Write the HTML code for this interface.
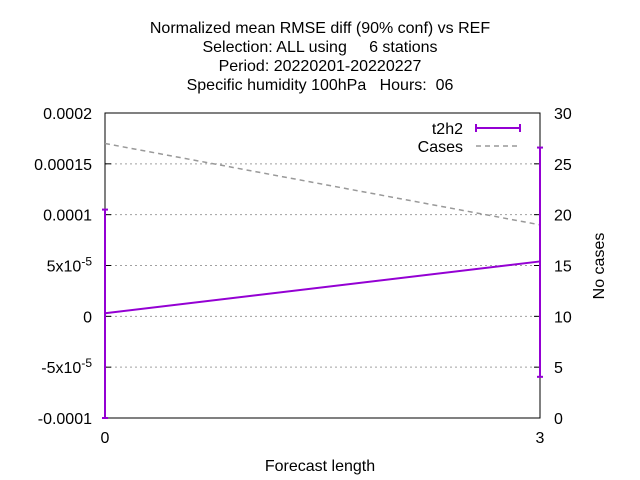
<!DOCTYPE html>
<html><head><meta charset="utf-8"><style>
body{margin:0;background:#fff}
svg{display:block;font-family:"Liberation Sans",sans-serif}
</style></head><body>
<svg id="chart" width="640" height="480">
<g font-size="16" text-anchor="middle" fill="#000">
<text x="320" y="33">Normalized mean RMSE diff (90% conf) vs REF</text>
<text x="320" y="52" xml:space="preserve">Selection: ALL using     6 stations</text>
<text x="320" y="71">Period: 20220201-20220227</text>
<text x="320" y="90" xml:space="preserve">Specific humidity 100hPa   Hours:  06</text>
</g>
<g id="grid"></g>
<g id="axes"></g>
<g id="series"></g>
<text x="320" y="471" font-size="16" text-anchor="middle">Forecast length</text>
<text transform="translate(604,266) rotate(-90)" font-size="16" text-anchor="middle">No cases</text>
<g font-size="16">
<g>
<text x="463" y="134" text-anchor="end">t2h2</text>
<line x1="476" y1="128" x2="520" y2="128" stroke="#9400d3" stroke-width="2"/>
<line x1="476" y1="124" x2="476" y2="132" stroke="#9400d3" stroke-width="2"/>
<line x1="520" y1="124" x2="520" y2="132" stroke="#9400d3" stroke-width="2"/>
</g>
<g>
<text x="463" y="152" text-anchor="end">Cases</text>
<line x1="476" y1="146" x2="520" y2="146" stroke="#999" stroke-width="1.5" stroke-dasharray="5,4"/>
</g>
</g>
</svg>
<script>
const steps=[0,3];
const t2h2=[0.000003,0.000054];
const errLow=[-0.0001,-0.0000595];
const errHigh=[0.000105,0.000166];
const cases=[27,19];
const yTicks=[-0.0001,-0.00005,0,0.00005,0.0001,0.00015,0.0002];
const yTickLabels=["-0.0001","-5x10-5","0","5x10-5","0.0001","0.00015","0.0002"];
const y2Ticks=[0,5,10,15,20,25,30];
const xTicks=[0,3];
const L=105,R=540,T=113,B=418;
const NS="http://www.w3.org/2000/svg";
const sx=v=>L+(v-0)/(3-0)*(R-L);
const sy=v=>B-(v+0.0001)/0.0003*(B-T);
const sy2=v=>B-v/30*(B-T);
function mk(p,tag,a){const e=document.createElementNS(NS,tag);for(const k in a)e.setAttribute(k,a[k]);p.appendChild(e);return e;}
const grid=document.getElementById('grid'),axes=document.getElementById('axes'),ser=document.getElementById('series');
yTicks.forEach((v,i)=>{const y=sy(v);
 if(i>0&&i<yTicks.length-1){const g=mk(grid,'line',{x1:L,x2:R,y1:y,y2:y,stroke:'#a0a0a0','stroke-dasharray':'2,3'});
 
 }
 const t=mk(axes,'line',{x1:L,x2:L+6,y1:y,y2:y,stroke:'#000'});
 
 
 const lab=yTickLabels[i];
 const tx=mk(axes,'text',{x:L-13,y:y+6,'font-size':16,'text-anchor':'end'});
 
 
 const m=lab.match(/^(.*)x10(-\d+)$/);
 if(m){tx.textContent=m[1]+'x10';const s=mk(tx,'tspan',{dy:-6,'font-size':12});s.textContent=m[2];}
 else tx.textContent=lab;
});
y2Ticks.forEach(v=>{const y=sy2(v);
 const t=mk(axes,'line',{x1:R-6,x2:R,y1:y,y2:y,stroke:'#000'});
 
 
 const tx=mk(axes,'text',{x:R+14,y:y+6,'font-size':16});
 
 
 tx.textContent=v;
});
xTicks.forEach(v=>{const x=sx(v);
 const t=mk(axes,'line',{x1:x,x2:x,y1:B,y2:B-6,stroke:'#000'});
 
 
 const tx=mk(axes,'text',{x:x,y:B+25,'font-size':16,'text-anchor':'middle'});
 
 
 tx.textContent=v;
});
const frame=mk(axes,'rect',{x:L,y:T,width:R-L,height:B-T,fill:'none',stroke:'#000'});


const cl=mk(ser,'polyline',{points:steps.map((s,i)=>sx(s)+','+sy2(cases[i])).join(' '),fill:'none',stroke:'#999','stroke-width':1.5,'stroke-dasharray':'5,4'});


steps.forEach((s,i)=>{const x=sx(s);
 const e=mk(ser,'line',{x1:x,x2:x,y1:sy(errLow[i]),y2:sy(errHigh[i]),stroke:'#9400d3','stroke-width':2});
 
 
 [errLow[i],errHigh[i]].forEach(v=>{const c=mk(ser,'line',{x1:x-3,x2:x+3,y1:sy(v),y2:sy(v),stroke:'#9400d3','stroke-width':2});
 
 });
});
const tl=mk(ser,'polyline',{points:steps.map((s,i)=>sx(s)+','+sy(t2h2[i])).join(' '),fill:'none',stroke:'#9400d3','stroke-width':2});


</script>
</body></html>
